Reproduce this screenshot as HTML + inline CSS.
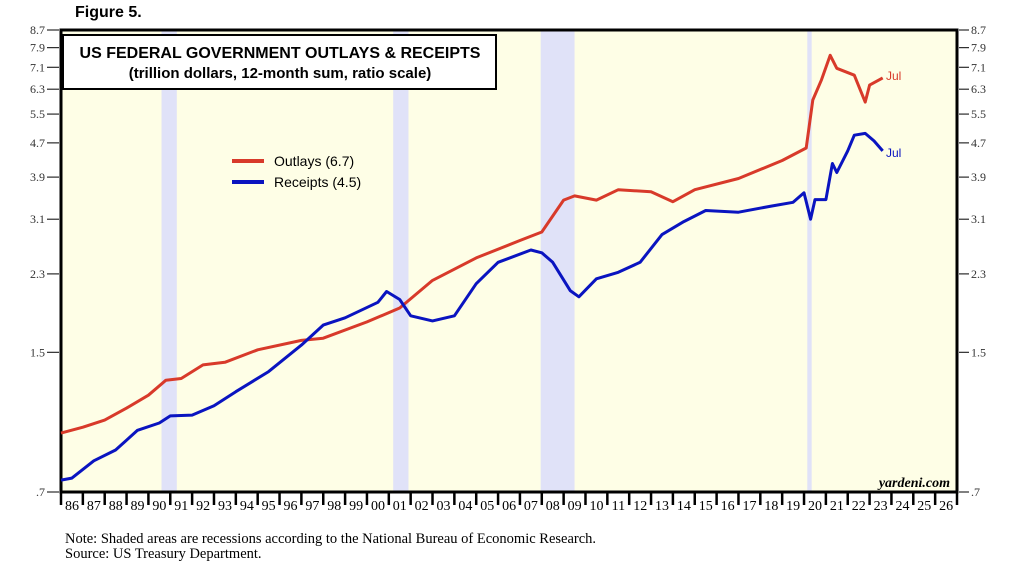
<!DOCTYPE html>
<html><head><meta charset="utf-8"><style>
body{margin:0;background:#fff;}
svg text{font-family:"Liberation Serif",serif;}
</style></head><body>
<svg id="c" width="1018" height="566" xmlns="http://www.w3.org/2000/svg">
<text x="75" y="17" font-family="Liberation Sans" font-weight="bold" font-size="16" style="font-family:'Liberation Sans',sans-serif">Figure 5.</text>
<rect x="61" y="30" width="896" height="462" fill="#fefee6"/>
<g id="rec"></g><g id="yt"></g><g id="xt"></g>
<rect x="61" y="30" width="896" height="462" fill="none" stroke="#000" stroke-width="3"/>
<rect x="63" y="35" width="433" height="54" fill="#fff" stroke="#000" stroke-width="2"/>
<text x="280" y="58" text-anchor="middle" font-weight="bold" font-size="16" style="font-family:'Liberation Sans',sans-serif">US FEDERAL GOVERNMENT OUTLAYS &amp; RECEIPTS</text>
<text x="280" y="78" text-anchor="middle" font-weight="bold" font-size="15" style="font-family:'Liberation Sans',sans-serif">(trillion dollars, 12-month sum, ratio scale)</text>
<line x1="232" y1="161" x2="264" y2="161" stroke="#d83a2a" stroke-width="4"/>
<text x="274" y="166" font-size="14" style="font-family:'Liberation Sans',sans-serif">Outlays (6.7)</text>
<line x1="232" y1="182" x2="264" y2="182" stroke="#0a14c0" stroke-width="4"/>
<text x="274" y="187" font-size="14" style="font-family:'Liberation Sans',sans-serif">Receipts (4.5)</text>
<g id="ln"></g>
<text x="886" y="80" font-size="12" fill="#d83a2a" style="font-family:'Liberation Sans',sans-serif">Jul</text>
<text x="886" y="157" font-size="12" fill="#0a14c0" style="font-family:'Liberation Sans',sans-serif">Jul</text>
<text x="950" y="487" text-anchor="end" font-style="italic" font-weight="bold" font-size="14">yardeni.com</text>
<text x="65" y="543" font-size="14.5">Note: Shaded areas are recessions according to the National Bureau of Economic Research.</text>
<text x="65" y="558" font-size="14.5">Source: US Treasury Department.</text>
</svg>
<script>
const yTicks=[8.7,7.9,7.1,6.3,5.5,4.7,3.9,3.1,2.3,1.5,0.7];
const yTickLabels=["8.7","7.9","7.1","6.3","5.5","4.7","3.9","3.1","2.3","1.5",".7"];
const recessions=[[1990.6,1991.3],[2001.2,2001.9],[2007.95,2009.5],[2020.15,2020.35]];
const outlaysT=[1986,1987,1988,1989,1990,1990.8,1991.5,1992.5,1993.5,1995,1997,1998,2000,2001.5,2003,2005,2007,2008,2009,2009.5,2010.5,2011.5,2013,2014,2015,2017,2019,2020.1,2020.4,2020.8,2021.2,2021.5,2022.3,2022.8,2023,2023.6];
const outlaysV=[0.965,0.997,1.036,1.106,1.187,1.288,1.30,1.40,1.42,1.52,1.60,1.62,1.77,1.91,2.22,2.51,2.76,2.89,3.44,3.52,3.44,3.64,3.60,3.41,3.64,3.87,4.27,4.57,5.94,6.63,7.58,7.06,6.80,5.87,6.44,6.7];
const receiptsT=[1986,1986.5,1987.5,1988.5,1989.5,1990.5,1991,1992,1993,1994,1995.5,1997,1998,1999,2000.5,2000.9,2001.5,2002,2003,2004,2005,2006,2007.5,2008,2008.5,2009.3,2009.7,2010.5,2011.5,2012.5,2013.5,2014.5,2015.5,2017,2018.5,2019.5,2020,2020.3,2020.5,2021,2021.3,2021.5,2022,2022.3,2022.8,2023.2,2023.6];
const receiptsV=[0.747,0.755,0.83,0.88,0.98,1.02,1.06,1.065,1.12,1.21,1.35,1.56,1.74,1.81,1.97,2.09,2.0,1.83,1.78,1.83,2.18,2.45,2.62,2.58,2.45,2.10,2.03,2.24,2.32,2.45,2.85,3.06,3.25,3.22,3.33,3.40,3.58,3.1,3.45,3.45,4.2,4.0,4.5,4.9,4.95,4.75,4.5];
const NS='http://www.w3.org/2000/svg';
const X0=61,X1=957,Y0=30,Y1=492,T0=1986,T1=2027,VMIN=0.7,VMAX=8.7;
const xs=t=>X0+(t-T0)/(T1-T0)*(X1-X0);
const ys=v=>Y1-Math.log(v/VMIN)/Math.log(VMAX/VMIN)*(Y1-Y0);
function mk(tag,attrs,parent,txt){const e=document.createElementNS(NS,tag);for(const k in attrs)e.setAttribute(k,attrs[k]);if(txt!==undefined)e.textContent=txt;parent.appendChild(e);return e;}
const rec=document.getElementById('rec');
recessions.forEach(r=>{const e=mk('rect',{x:xs(r[0]),y:Y0,width:xs(r[1])-xs(r[0]),height:Y1-Y0,fill:'#e0e2f8'},rec);

});
const yt=document.getElementById('yt');
yTicks.forEach((v,i)=>{const y=ys(v);
const a=mk('line',{x1:47,x2:59,y1:y,y2:y,stroke:'#000'},yt);


const b=mk('line',{x1:959,x2:969,y1:y,y2:y,stroke:'#000'},yt);


const l=mk('text',{x:45,y:y+4,'text-anchor':'end','font-size':12,fill:'#333'},yt,yTickLabels[i]);


const r=mk('text',{x:971,y:y+4,'font-size':12,fill:'#333'},yt,yTickLabels[i]);

});
const xt=document.getElementById('xt');
for(let yr=T0;yr<=T1;yr++){const x=xs(yr);
const t=mk('line',{x1:x,x2:x,y1:Y1,y2:Y1+13,stroke:'#000','stroke-width':2.5},xt);


if(yr<T1){const l=mk('text',{x:x+11,y:Y1+18,'text-anchor':'middle','font-size':14},xt,String(yr%100).padStart(2,'0'));

}}
const ln=document.getElementById('ln');
function line(T,V,col,name){const d=T.map((t,i)=>(i?'L':'M')+xs(t).toFixed(1)+','+ys(V[i]).toFixed(1)).join('');
const p=mk('path',{d:d,fill:'none',stroke:col,'stroke-width':3,'stroke-linejoin':'round'},ln);

}
line(outlaysT,outlaysV,'#d83a2a','outlays-line');
line(receiptsT,receiptsV,'#0a14c0','receipts-line');
</script>
</body></html>
